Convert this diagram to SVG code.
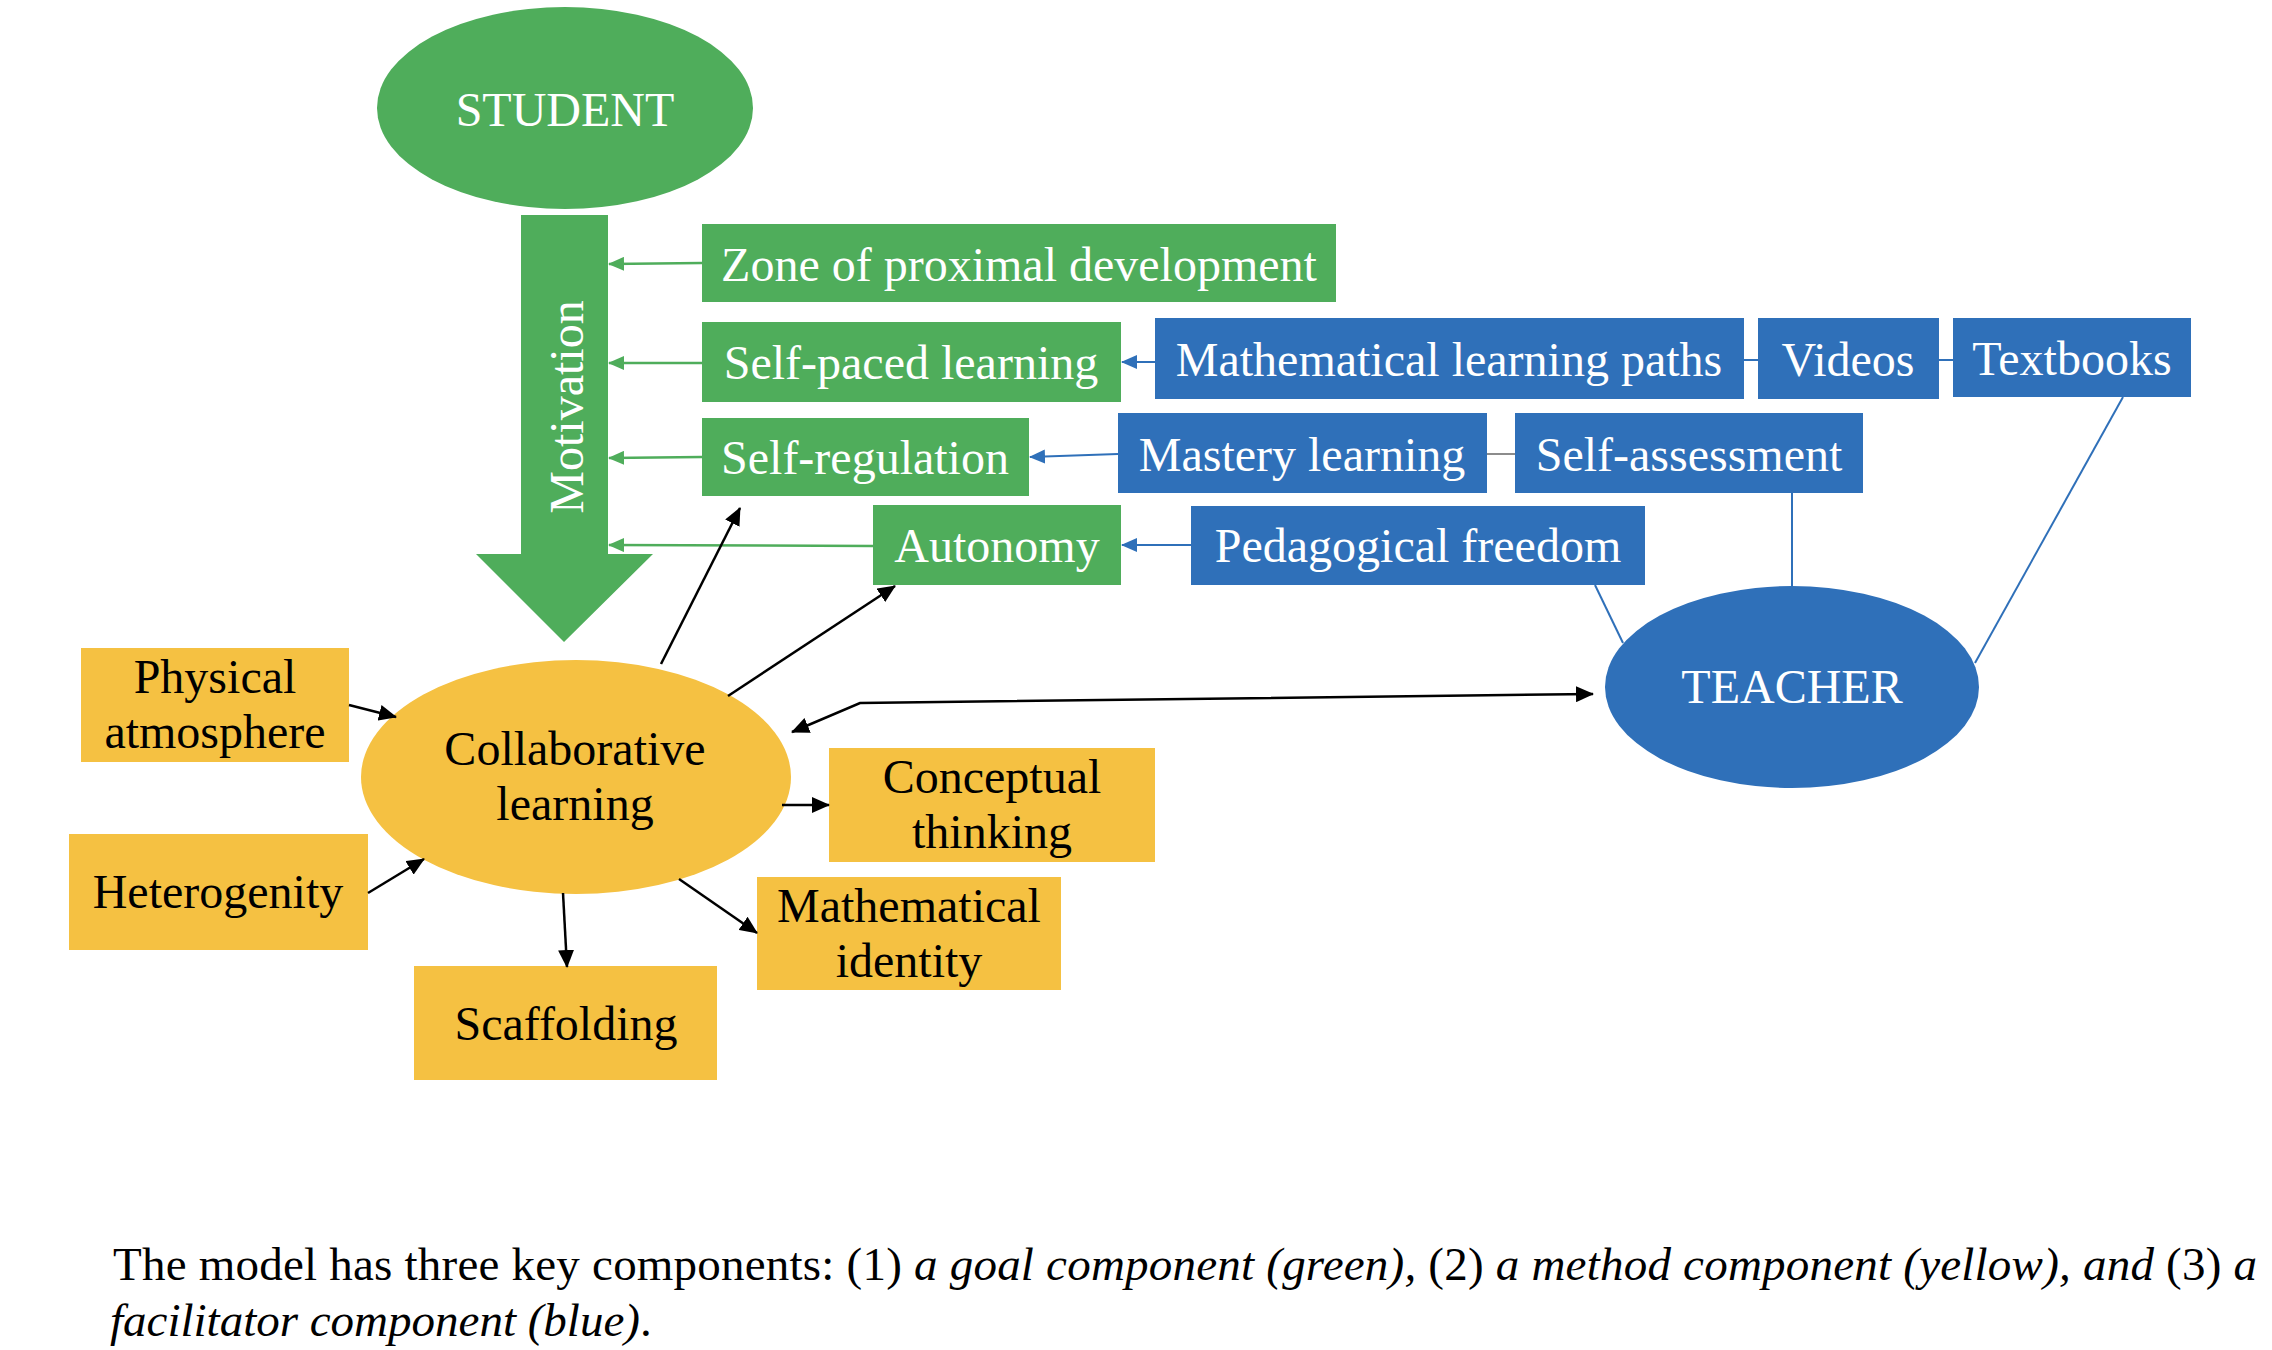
<svg xmlns="http://www.w3.org/2000/svg" width="2272" height="1350" viewBox="0 0 2272 1350">
<defs>
<style>
.g{fill:#4FAD5B}
.b{fill:#2F70B9}
.y{fill:#F5C142}
.tw{font-family:"Liberation Serif","Times New Roman",serif;font-size:48px;fill:#fff;text-anchor:middle}
.tb{font-family:"Liberation Serif","Times New Roman",serif;font-size:48px;fill:#000;text-anchor:middle}
.cap{font-family:"Liberation Serif","Times New Roman",serif;font-size:47px;fill:#000}
.lg{stroke:#4FAD5B;stroke-width:2.5;fill:none}
.lb{stroke:#2F70B9;stroke-width:2;fill:none}
.lk{stroke:#000;stroke-width:2.5;fill:none}
</style>
<marker id="ag" viewBox="0 0 16 14" refX="15" refY="7" markerWidth="16" markerHeight="14" markerUnits="userSpaceOnUse" orient="auto"><path d="M0,0 L16,7 L0,14 z" fill="#4FAD5B"/></marker>
<marker id="ab" viewBox="0 0 16 14" refX="15" refY="7" markerWidth="16" markerHeight="14" markerUnits="userSpaceOnUse" orient="auto"><path d="M0,0 L16,7 L0,14 z" fill="#2F70B9"/></marker>
<marker id="ak" viewBox="0 0 18 16" refX="17" refY="8" markerWidth="18" markerHeight="16" markerUnits="userSpaceOnUse" orient="auto-start-reverse"><path d="M0,0 L18,8 L0,16 z" fill="#000"/></marker>
</defs>
<rect width="2272" height="1350" fill="#fff"/>

<g id="student"><ellipse class="g" cx="565" cy="108" rx="188" ry="101"/><text class="tw" x="565" y="126">STUDENT</text></g>
<g id="motivation"><polygon class="g" points="521,215 608,215 608,554 653,554 564,642 476,554 521,554"/><text class="tw" transform="translate(583,407) rotate(-90)">Motivation</text></g>

<g id="zpd"><rect class="g" x="702" y="224" width="634" height="78"/><text class="tw" x="1019" y="281">Zone of proximal development</text></g>
<g id="selfpaced"><rect class="g" x="702" y="322" width="419" height="80"/><text class="tw" x="911" y="379">Self-paced learning</text></g>
<g id="selfreg"><rect class="g" x="702" y="418" width="327" height="78"/><text class="tw" x="865" y="474">Self-regulation</text></g>
<g id="autonomy"><rect class="g" x="873" y="505" width="248" height="80"/><text class="tw" x="997" y="562">Autonomy</text></g>

<g id="mathpaths"><rect class="b" x="1155" y="318" width="589" height="81"/><text class="tw" x="1449" y="376">Mathematical learning paths</text></g>
<g id="videos"><rect class="b" x="1758" y="318" width="181" height="81"/><text class="tw" x="1848" y="376">Videos</text></g>
<g id="textbooks"><rect class="b" x="1953" y="318" width="238" height="79"/><text class="tw" x="2072" y="375">Textbooks</text></g>
<g id="mastery"><rect class="b" x="1118" y="413" width="369" height="80"/><text class="tw" x="1302" y="471">Mastery learning</text></g>
<g id="selfassess"><rect class="b" x="1515" y="413" width="348" height="80"/><text class="tw" x="1689" y="471">Self-assessment</text></g>
<g id="pedagogical"><rect class="b" x="1191" y="506" width="454" height="79"/><text class="tw" x="1418" y="562">Pedagogical freedom</text></g>
<g id="teacher"><ellipse class="b" cx="1792" cy="687" rx="187" ry="101"/><text class="tw" x="1792" y="703">TEACHER</text></g>

<g id="collab"><ellipse class="y" cx="576" cy="777" rx="215" ry="117"/><text class="tb" x="575" y="765">Collaborative</text><text class="tb" x="575" y="820">learning</text></g>
<g id="physical"><rect class="y" x="81" y="648" width="268" height="114"/><text class="tb" x="215" y="693">Physical</text><text class="tb" x="215" y="748">atmosphere</text></g>
<g id="heterogenity"><rect class="y" x="69" y="834" width="299" height="116"/><text class="tb" x="218" y="908">Heterogenity</text></g>
<g id="conceptual"><rect class="y" x="829" y="748" width="326" height="114"/><text class="tb" x="992" y="793">Conceptual</text><text class="tb" x="992" y="848">thinking</text></g>
<g id="mathidentity"><rect class="y" x="757" y="877" width="304" height="113"/><text class="tb" x="909" y="922">Mathematical</text><text class="tb" x="909" y="977">identity</text></g>
<g id="scaffolding"><rect class="y" x="414" y="966" width="303" height="114"/><text class="tb" x="566" y="1040">Scaffolding</text></g>

<g id="connectors">
<line class="lg" x1="702" y1="263" x2="609" y2="264" marker-end="url(#ag)"/>
<line class="lg" x1="702" y1="363" x2="609" y2="363" marker-end="url(#ag)"/>
<line class="lg" x1="702" y1="457" x2="609" y2="458" marker-end="url(#ag)"/>
<line class="lg" x1="873" y1="546" x2="609" y2="545" marker-end="url(#ag)"/>
<line class="lb" x1="1155" y1="362" x2="1122" y2="362" marker-end="url(#ab)"/>
<line class="lb" x1="1118" y1="454" x2="1030" y2="457" marker-end="url(#ab)"/>
<line class="lb" x1="1191" y1="545" x2="1122" y2="545" marker-end="url(#ab)"/>
<line class="lb" x1="1744" y1="360" x2="1758" y2="360"/>
<line class="lb" x1="1939" y1="360" x2="1953" y2="360"/>
<line x1="1487" y1="454" x2="1515" y2="454" stroke="#8c8c8c" stroke-width="2"/>
<line class="lb" x1="1792" y1="493" x2="1792" y2="586"/>
<line class="lb" x1="1595" y1="585" x2="1623" y2="643"/>
<line class="lb" x1="2123" y1="397" x2="1975" y2="663"/>
<line class="lk" x1="349" y1="705" x2="396" y2="717" marker-end="url(#ak)"/>
<line class="lk" x1="368" y1="893" x2="424" y2="859" marker-end="url(#ak)"/>
<line class="lk" x1="563" y1="893" x2="567" y2="967" marker-end="url(#ak)"/>
<line class="lk" x1="679" y1="879" x2="757" y2="933" marker-end="url(#ak)"/>
<line class="lk" x1="782" y1="805" x2="829" y2="805" marker-end="url(#ak)"/>
<line class="lk" x1="661" y1="664" x2="740" y2="508" marker-end="url(#ak)"/>
<line class="lk" x1="728" y1="696" x2="895" y2="586" marker-end="url(#ak)"/>
<path class="lk" d="M792,732 L860,703 L1593,694" marker-start="url(#ak)" marker-end="url(#ak)"/>
</g>

<g id="caption">
<text class="cap" x="113" y="1280" textLength="2144" lengthAdjust="spacing">The model has three key components: (1) <tspan font-style="italic">a goal component (green),</tspan> (2) <tspan font-style="italic">a method component (yellow), and</tspan> (3) <tspan font-style="italic">a</tspan></text>
<text class="cap" x="110" y="1336"><tspan font-style="italic">facilitator component (blue)</tspan>.</text>
</g>
</svg>
